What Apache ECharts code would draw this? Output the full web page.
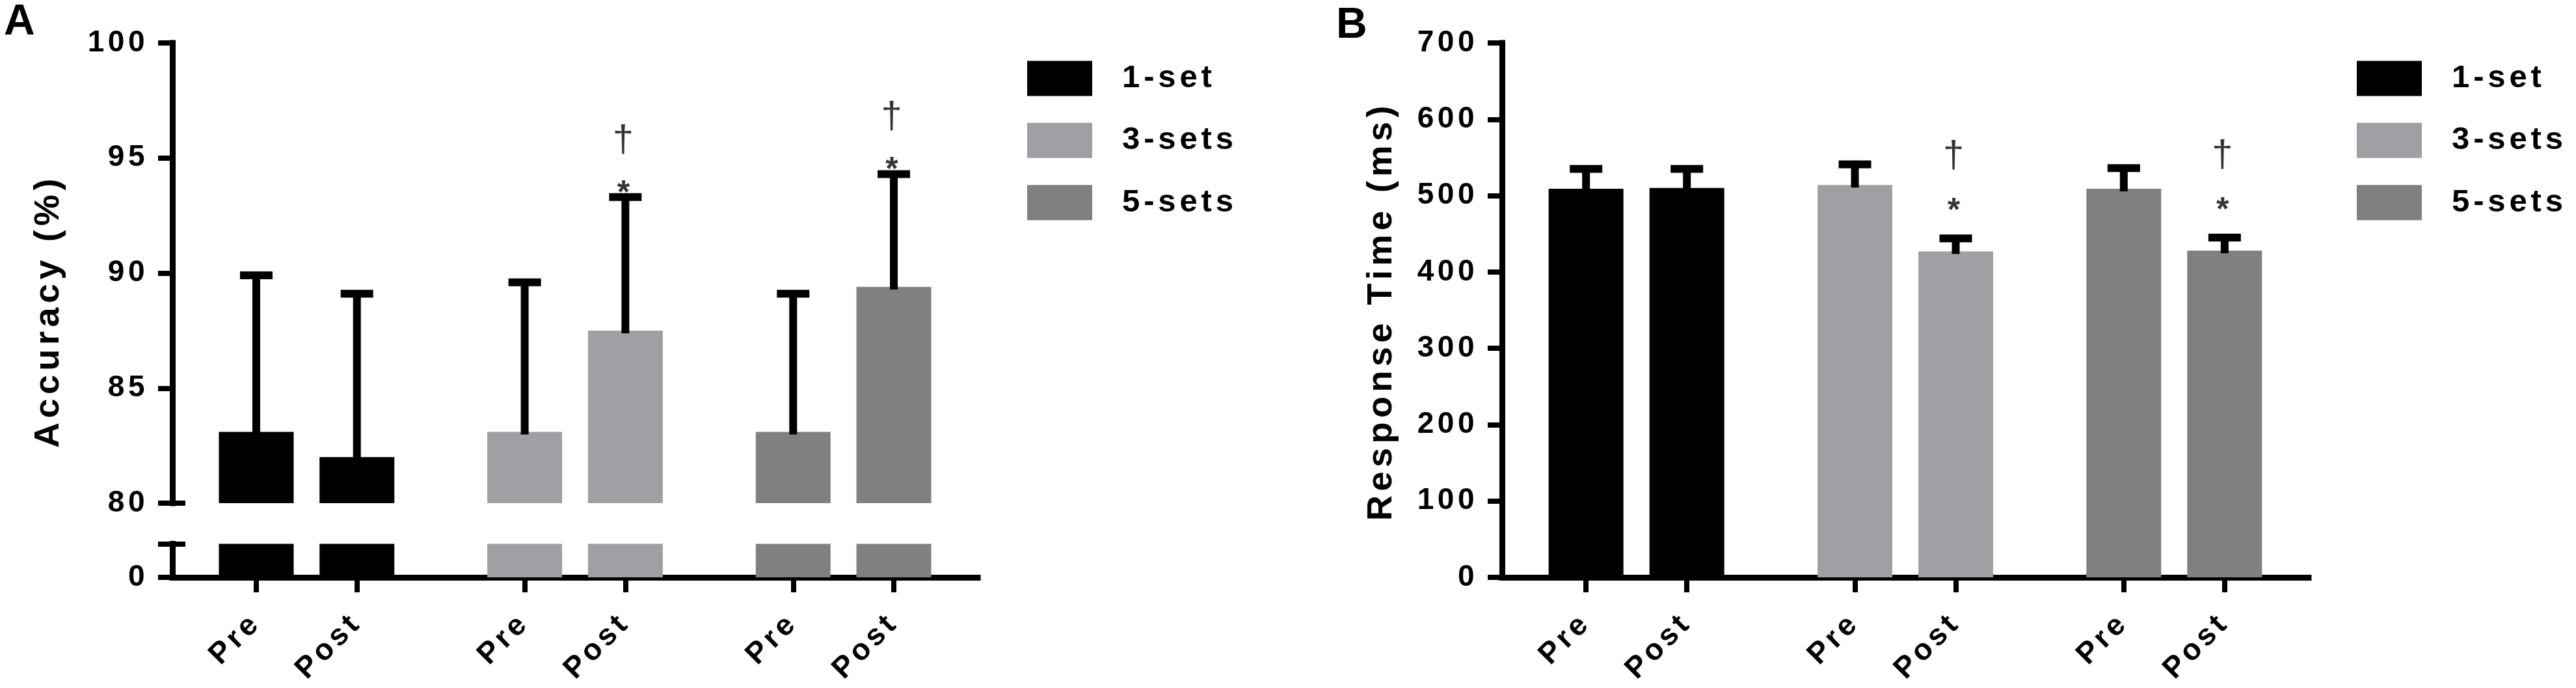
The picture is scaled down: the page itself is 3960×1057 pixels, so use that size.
<!DOCTYPE html>
<html>
<head>
<meta charset="utf-8">
<script src="https://cdn.jsdelivr.net/npm/echarts@6/dist/echarts.min.js"></script>
<style>html,body{margin:0;padding:0;background:#fff}#c{width:3960px;height:1057px}</style>
</head>
<body>
<div id="c"></div>
<script>
// ---- data ----
const groups = ['1-set', '3-sets', '5-sets'];
const phases = ['Pre', 'Post'];
const groupColors = ['#000000', '#a0a0a4', '#808080'];

// Panel A: Accuracy (%) mean and SD (Pre, Post)
const accuracy1set = [83.1, 82.0];
const accuracy3sets = [83.1, 87.5];
const accuracy5sets = [83.1, 89.4];
const accuracySd1set = [6.8, 7.1];
const accuracySd3sets = [6.5, 5.8];
const accuracySd5sets = [6.0, 4.9];

// Panel B: Response time (ms) mean and SD (Pre, Post)
const rt1set = [509, 510];
const rt3sets = [514, 427];
const rt5sets = [509, 428];
const rtSd1set = [26, 25];
const rtSd3sets = [27, 17];
const rtSd5sets = [27, 17];

// significance marks (* and dagger) per group, Pre/Post
const sig1set = [false, false];
const sig3sets = [false, true];
const sig5sets = [false, true];

const accuracyTicks = [80, 85, 90, 95, 100];
const rtTicks = [0, 100, 200, 300, 400, 500, 600, 700];

// ---- text tracking (wide letter spacing, as in the original figure) ----
(function () {
  const proto = window.CanvasRenderingContext2D && CanvasRenderingContext2D.prototype;
  if (!proto || !('letterSpacing' in proto)) return;
  const desc = Object.getOwnPropertyDescriptor(proto, 'font');
  if (!desc || !desc.set) return;
  Object.defineProperty(proto, 'font', {
    configurable: true,
    get() { return desc.get.call(this); },
    set(v) {
      desc.set.call(this, v);
      const m = /(\d+(?:\.\d+)?)px/.exec(String(v));
      this.letterSpacing = m && parseFloat(m[1]) >= 40 ? (parseFloat(m[1]) * 0.12).toFixed(2) + 'px' : '0px';
    }
  });
})();

// ---- layout helpers ----
const SLOTS_PER_GROUP = 8;
const PHASE_SLOT = [2, 5];
const slotCount = groups.length * SLOTS_PER_GROUP;
const slotLabels = [];
for (let i = 0; i < slotCount; i++) slotLabels.push('');
groups.forEach((g, gi) => phases.forEach((p, pi) => { slotLabels[gi * SLOTS_PER_GROUP + PHASE_SLOT[pi]] = p; }));
const slotOf = (gi, pi) => gi * SLOTS_PER_GROUP + PHASE_SLOT[pi];

function slotData(gi, vals) {
  const arr = slotLabels.map(() => null);
  vals.forEach((v, pi) => { arr[slotOf(gi, pi)] = v; });
  return arr;
}
function errData(meansList, sdsList) {
  const out = [];
  meansList.forEach((m, gi) => m.forEach((v, pi) => out.push([slotOf(gi, pi), v, v + sdsList[gi][pi]])));
  return out;
}
function sigData(meansList, sdsList, sigList) {
  const out = [];
  meansList.forEach((m, gi) => m.forEach((v, pi) => { if (sigList[gi][pi]) out.push([slotOf(gi, pi), v + sdsList[gi][pi]]); }));
  return out;
}

const accMeans = [accuracy1set, accuracy3sets, accuracy5sets];
const accSds = [accuracySd1set, accuracySd3sets, accuracySd5sets];
const rtMeans = [rt1set, rt3sets, rt5sets];
const rtSds = [rtSd1set, rtSd3sets, rtSd5sets];
const sigs = [sig1set, sig3sets, sig5sets];

const FONT = 'Liberation Sans';
const showSlot = (i, v) => v !== '';

function errorRender(params, api) {
  const x = api.value(0), m = api.value(1), t = api.value(2);
  const pt = api.coord([x, t]);
  const pb = api.coord([x, m]);
  return {
    type: 'group',
    children: [
      { type: 'rect', shape: { x: pt[0] - 6, y: pt[1], width: 12, height: pb[1] - pt[1] + 4 }, style: { fill: '#000' } },
      { type: 'rect', shape: { x: pt[0] - 25, y: pt[1] - 6, width: 50, height: 12 }, style: { fill: '#000' } }
    ]
  };
}

const axisLineStyle = { color: '#000', width: 9, cap: 'square' };
const tickLine = { color: '#000', width: 8 };
const tickLabel = { color: '#000', fontSize: 46, fontWeight: 'bold', fontFamily: FONT };

function xAxisVisible(gridIndex) {
  return {
    gridIndex, type: 'category', data: slotLabels,
    axisLine: { show: true, onZero: false, lineStyle: axisLineStyle },
    axisTick: { show: true, alignWithLabel: true, interval: showSlot, length: 23, lineStyle: tickLine },
    axisLabel: Object.assign({ interval: showSlot, rotate: 45, margin: 63, hideOverlap: false }, tickLabel),
    splitLine: { show: false }
  };
}

function barSeries(xi, yi, meansList) {
  return groups.map((g, gi) => ({
    type: 'bar', name: g, xAxisIndex: xi, yAxisIndex: yi,
    data: slotData(gi, meansList[gi]),
    barWidth: 115, barGap: '-100%',
    itemStyle: { color: groupColors[gi] },
    clip: true, z: 2
  }));
}
function sigSeries(xi, yi, data, text, dy, font) {
  return {
    type: 'scatter', xAxisIndex: xi, yAxisIndex: yi, data,
    symbol: 'circle', symbolSize: 1, itemStyle: { color: 'rgba(0,0,0,0)' }, z: 5,
    label: Object.assign({ show: true, position: 'inside', formatter: text, offset: [0, dy], color: '#000' }, font)
  };
}
const starFont = { fontSize: 50, fontWeight: 'bold', fontFamily: 'Liberation Sans' };
const daggerFont = { fontSize: 58, fontWeight: 'normal', fontFamily: 'Liberation Sans' };

const legendBase = {
  orient: 'vertical', itemWidth: 100, itemHeight: 54, itemGap: 40.5, icon: 'rect',
  selectedMode: false, data: groups, padding: 0,
  textStyle: { color: '#000', fontSize: 49, fontWeight: 'bold', fontFamily: FONT, padding: [10, 0, 0, 41] }
};

const option = {
  animation: false,
  backgroundColor: '#fff',
  title: [
    { text: 'A', left: 6, top: -2, padding: 0, textStyle: { fontSize: 66, fontWeight: 'bold', fontFamily: 'Liberation Sans', color: '#000' } },
    { text: 'B', left: 2054, top: 3, padding: 0, textStyle: { fontSize: 66, fontWeight: 'bold', fontFamily: 'Liberation Sans', color: '#000' } }
  ],
  legend: [
    Object.assign({ left: 1579, top: 93 }, legendBase),
    Object.assign({ left: 3623, top: 93 }, legendBase)
  ],
  graphic: [
    { type: 'text', x: 75, y: 478, rotation: Math.PI / 2,
      style: { text: 'Accuracy (%)', fontSize: 54, fontWeight: 'bold', fontFamily: FONT, fill: '#000', align: 'center', verticalAlign: 'middle', textAlign: 'center', textVerticalAlign: 'middle' } },
    { type: 'text', x: 2124, y: 478, rotation: Math.PI / 2,
      style: { text: 'Response Time (ms)', fontSize: 54, fontWeight: 'bold', fontFamily: FONT, fill: '#000', align: 'center', verticalAlign: 'middle', textAlign: 'center', textVerticalAlign: 'middle' } }
  ],
  grid: [
    { left: 265, top: 66, width: 1238, height: 707 },
    { left: 265, top: 835.5, width: 1238, height: 51.5 },
    { left: 2309, top: 66, width: 1240, height: 821 }
  ],
  xAxis: [
    { gridIndex: 0, type: 'category', data: slotLabels, show: false },
    xAxisVisible(1),
    xAxisVisible(2)
  ],
  yAxis: [
    { gridIndex: 0, type: 'value', min: accuracyTicks[0], max: accuracyTicks[accuracyTicks.length - 1], interval: 5,
      axisLine: { show: true, lineStyle: axisLineStyle },
      axisTick: { show: true, length: 22, lineStyle: tickLine },
      axisLabel: Object.assign({ margin: 37 }, tickLabel), splitLine: { show: false } },
    { gridIndex: 0, type: 'value', min: accuracyTicks[0], max: accuracyTicks[accuracyTicks.length - 1], position: 'left',
      axisLine: { show: false }, axisTick: { show: true, inside: true, length: 20, customValues: [accuracyTicks[0]], lineStyle: tickLine },
      axisLabel: { show: false }, splitLine: { show: false } },
    { gridIndex: 1, type: 'value', min: 0, max: 5, interval: 5,
      axisLine: { show: true, lineStyle: axisLineStyle },
      axisTick: { show: true, length: 22, lineStyle: tickLine },
      axisLabel: Object.assign({ margin: 37, formatter: v => (v === 0 ? '0' : '') }, tickLabel), splitLine: { show: false } },
    { gridIndex: 1, type: 'value', min: 0, max: 5, position: 'left',
      axisLine: { show: false }, axisTick: { show: true, inside: true, length: 20, customValues: [5], lineStyle: tickLine },
      axisLabel: { show: false }, splitLine: { show: false } },
    { gridIndex: 2, type: 'value', min: rtTicks[0], max: rtTicks[rtTicks.length - 1], interval: 100,
      axisLine: { show: true, lineStyle: axisLineStyle },
      axisTick: { show: true, length: 22, lineStyle: tickLine },
      axisLabel: Object.assign({ margin: 37 }, tickLabel), splitLine: { show: false } }
  ],
  series: [].concat(
    barSeries(0, 0, accMeans),
    barSeries(1, 2, accMeans),
    [{ type: 'custom', xAxisIndex: 0, yAxisIndex: 0, data: errData(accMeans, accSds), renderItem: errorRender, z: 3 }],
    [sigSeries(0, 0, sigData(accMeans, accSds, sigs), '*', -5, starFont),
     sigSeries(0, 0, sigData(accMeans, accSds, sigs), '†', -86, daggerFont)],
    barSeries(2, 4, rtMeans),
    [{ type: 'custom', xAxisIndex: 2, yAxisIndex: 4, data: errData(rtMeans, rtSds), renderItem: errorRender, z: 3 }],
    [sigSeries(2, 4, sigData(rtMeans, rtSds, sigs), '*', -41, starFont),
     sigSeries(2, 4, sigData(rtMeans, rtSds, sigs), '†', -125, daggerFont)]
  )
};

const chart = echarts.init(document.getElementById('c'), null, { renderer: 'canvas' });
chart.setOption(option);
</script>
</body>
</html>
